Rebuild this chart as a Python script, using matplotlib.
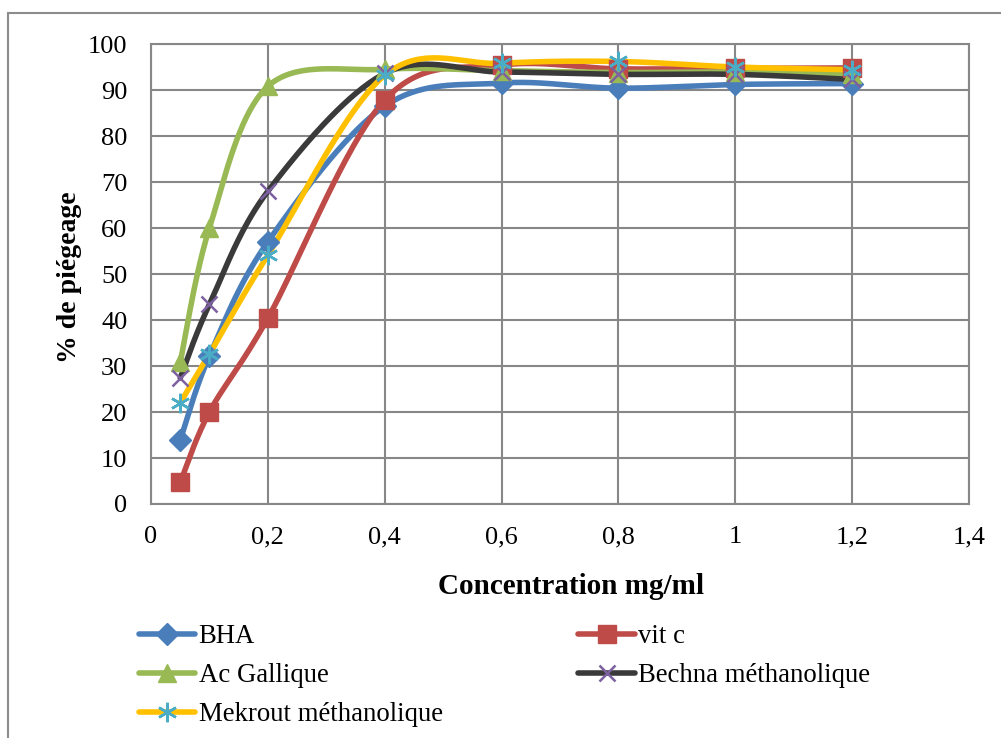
import numpy as np
import matplotlib
matplotlib.use("Agg")
import matplotlib.pyplot as plt
from matplotlib.patches import Rectangle
from matplotlib.ticker import FuncFormatter

plt.rcParams['font.family'] = ['Liberation Serif', 'DejaVu Serif']

concentration = [0.05, 0.1, 0.2, 0.4, 0.6, 0.8, 1.0, 1.2]

bha = [13.9, 32.2, 57.0, 86.5, 91.5, 90.4, 91.2, 91.4]
vit_c = [4.7, 20.0, 40.4, 87.8, 95.4, 94.6, 94.7, 94.8]
ac_gallique = [30.8, 60.0, 90.8, 94.5, 94.2, 93.8, 93.9, 93.5]
bechna = [27.4, 43.4, 68.0, 93.6, 93.9, 93.4, 93.4, 92.3]
mekrout = [22.0, 32.6, 54.1, 93.2, 95.8, 96.2, 95.0, 94.4]

series_names = ["BHA", "vit c", "Ac Gallique", "Bechna méthanolique",
                "Mekrout méthanolique"]


def smooth(x, y, n=40):
    # Bezier smoothing, control points at 1/6 of the neighbour chord
    x = np.asarray(x, float)
    y = np.asarray(y, float)
    P = np.column_stack([x, y])
    m = len(P)
    out = []
    for i in range(m - 1):
        p0 = P[i - 1] if i > 0 else P[i]
        p1 = P[i]
        p2 = P[i + 1]
        p3 = P[i + 2] if i + 2 < m else P[i + 1]
        c1 = p1 + (p2 - p0) / 6.0
        c2 = p2 - (p3 - p1) / 6.0
        t = np.linspace(0, 1, n)[:, None]
        seg = ((1 - t) ** 3 * p1 + 3 * (1 - t) ** 2 * t * c1
               + 3 * (1 - t) * t ** 2 * c2 + t ** 3 * p2)
        out.append(seg if i == 0 else seg[1:])
    out = np.vstack(out)
    return out[:, 0], out[:, 1]


fig = plt.figure(figsize=(10.01, 7.38), dpi=100)
ax = fig.add_axes([151 / 1001, 1 - 504 / 738, 818 / 1001, 460 / 738])

# chart area border
fig.patches.append(Rectangle((8 / 1001, -0.05), 1.1, 1 - 13 / 738 + 0.05,
                             transform=fig.transFigure, fill=False,
                             edgecolor="#8c8c8c", linewidth=1.5))

styles = [
    dict(color="#4a7ebb", marker="D", mfc="#4a7ebb", mec="#4a7ebb", ms=11),
    dict(color="#be4b48", marker="s", mfc="#be4b48", mec="#be4b48", ms=13),
    dict(color="#98b954", marker="^", mfc="#98b954", mec="#98b954", ms=13),
    dict(color="#3a3a3a", marker="x", mfc="none", mec="#7d60a0", ms=12, mew=1.8),
    dict(color="#ffc000", marker=(6, 2, 0), mfc="none", mec="#4bacc6", ms=14, mew=1.8),
]
all_y = [bha, vit_c, ac_gallique, bechna, mekrout]

handles = []
for name, yv, st in zip(series_names, all_y, styles):
    sx, sy = smooth(concentration, yv)
    ax.plot(sx, sy, color=st["color"], lw=4, solid_capstyle="round", zorder=3)
    ax.plot(concentration, yv, ls="none", marker=st["marker"], mfc=st["mfc"],
            mec=st["mec"], ms=st["ms"], mew=st.get("mew", 1), zorder=4)
    h, = ax.plot([], [], color=st["color"], lw=4, solid_capstyle="round",
                 marker=st["marker"], mfc=st["mfc"], mec=st["mec"],
                 ms=st["ms"], mew=st.get("mew", 1), label=name)
    handles.append(h)

ax.set_xlim(0, 1.4)
ax.set_ylim(0, 100)
ax.set_xticks(np.arange(0, 1.41, 0.2))
ax.set_yticks(np.arange(0, 101, 10))
ax.xaxis.set_major_formatter(FuncFormatter(
    lambda v, p: ("%g" % round(v, 1)).replace(".", ",")))
ax.grid(True, color="#878787", lw=1.5)
ax.set_axisbelow(True)
for sp in ax.spines.values():
    sp.set_color("#878787")
    sp.set_linewidth(1.5)
ax.tick_params(length=0, labelsize=19, pad=17)
ax.tick_params(axis="x", pad=16)

ax.set_xlabel("Concentration mg/ml", fontsize=21, fontweight="bold")
ax.xaxis.set_label_coords(571 / 1001, 1 - 586 / 738, transform=fig.transFigure)
ax.xaxis.label.set_va("center")
ax.set_ylabel("% de piégeage", fontsize=20, fontweight="bold")
ax.yaxis.set_label_coords(70 / 1001, 1 - 277 / 738, transform=fig.transFigure)
ax.yaxis.label.set_va("center")

order = [0, 2, 4, 1, 3]
fig.legend([handles[i] for i in order], [series_names[i] for i in order],
           ncol=2, loc="upper left", bbox_to_anchor=(139 / 1001, 1 - 624 / 738),
           frameon=False, fontsize=19.3, handlelength=2.1, handletextpad=0.12,
           columnspacing=5.07, labelspacing=0.53, borderpad=0, borderaxespad=0)

fig.savefig("out.png", dpi=100)
